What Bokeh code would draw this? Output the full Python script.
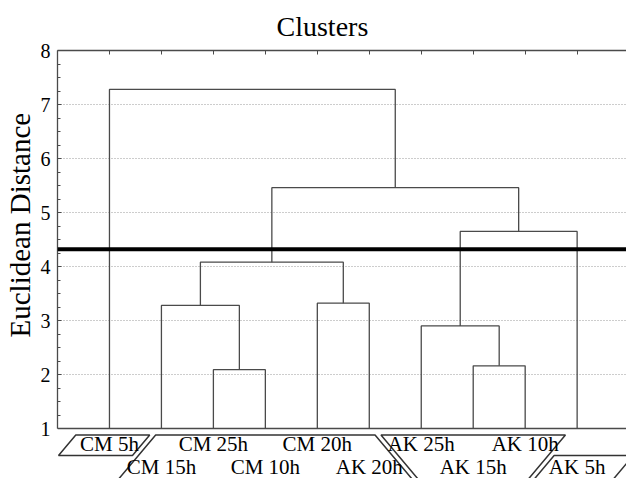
from bokeh.plotting import figure
from bokeh.models import Range1d, LinearAxis, FixedTicker, Span, Title
from bokeh.embed import file_html
from bokeh.resources import INLINE
from bokeh.core.properties import value

# ---------------- data ----------------
leaf_labels = ["CM 5h", "CM 15h", "CM 25h", "CM 10h", "CM 20h",
               "AK 20h", "AK 25h", "AK 15h", "AK 10h", "AK 5h"]
# merges: node ids 0..9 are leaves, merge k creates node 10 + k
merge_left = [2, 1, 4, 11, 7, 6, 15, 13, 0]
merge_right = [3, 10, 5, 12, 8, 14, 9, 16, 17]
merge_height = [2.09, 3.28, 3.32, 4.08, 2.16, 2.90, 4.65, 5.46, 7.28]
cut_height = 4.32
y_ticks = [1, 2, 3, 4, 5, 6, 7, 8]

# ---------------- layout constants ----------------
FONT = "Liberation Serif"
FIG_W, FIG_H = 626, 478
LEFT, TOP = 51, 50
X_END = 10.95
PXU = (FIG_W - LEFT) / X_END          # pixels per x unit
PXY = 54.0                            # pixels per y unit
Y_LO = y_ticks[-1] - (FIG_H - TOP) / PXY
LINE_C = "#4a4a4a"

n = len(leaf_labels)
leaf_x = [i + 1 for i in range(n)]

# ---------------- dendrogram geometry ----------------
node_x = {i: float(leaf_x[i]) for i in range(n)}
node_y = {i: float(y_ticks[0]) for i in range(n)}
members = {i: [i] for i in range(n)}
children = {}
xs, ys = [], []
for k, (a, b, h) in enumerate(zip(merge_left, merge_right, merge_height)):
    node = n + k
    xs.append([node_x[a], node_x[a], node_x[b], node_x[b]])
    ys.append([node_y[a], h, h, node_y[b]])
    node_x[node] = (node_x[a] + node_x[b]) / 2
    node_y[node] = h
    members[node] = members[a] + members[b]
    children[node] = (a, b)

root = n + len(merge_height) - 1


def split(node):
    if node < n or node_y[node] < cut_height:
        return [sorted(members[node])]
    a, b = children[node]
    return split(a) + split(b)


clusters = sorted(split(root), key=lambda m: m[0])

# ---------------- figure ----------------
p = figure(width=FIG_W, height=FIG_H, x_range=Range1d(0, X_END),
           y_range=Range1d(Y_LO, y_ticks[-1]),
           x_axis_location=None, y_axis_location="left",
           toolbar_location=None, output_backend="svg",
           min_border_left=LEFT, min_border_right=0,
           min_border_top=TOP, min_border_bottom=0,
           title="Clusters")
p.outline_line_color = None

p.title.text_font = FONT
p.title.text_font_size = "28px"
p.title.text_font_style = "normal"
p.title.text_color = "black"
p.title.align = "left"
p.title.offset = 219
p.title.standoff = 17

ya = p.yaxis[0]
minor = [t + 0.25 * j for t in y_ticks[:-1] for j in range(1, 4)]
ya.ticker = FixedTicker(ticks=y_ticks, minor_ticks=minor)
ya.bounds = (y_ticks[0], y_ticks[-1])
ya.major_label_text_font = FONT
ya.major_label_text_font_size = "20px"
ya.major_label_text_color = "black"
ya.major_label_standoff = 7
ya.major_tick_in = 4
ya.major_tick_out = 0
ya.minor_tick_in = 3
ya.minor_tick_out = 0
ya.axis_line_color = LINE_C
ya.major_tick_line_color = LINE_C
ya.minor_tick_line_color = LINE_C
ya.axis_line_width = 1.3

ytitle = Title(text="Euclidean Distance", align="left", offset=141,
               standoff=3, text_font=FONT, text_font_size="29px",
               text_font_style="normal", text_color="black")
p.add_layout(ytitle, "left")

top_axis = LinearAxis(ticker=FixedTicker(ticks=leaf_x, minor_ticks=[]),
                      major_label_overrides={x: "" for x in leaf_x},
                      major_label_standoff=0,
                      major_label_text_font_size="1px",
                      major_tick_in=4, major_tick_out=0,
                      minor_tick_in=0, minor_tick_out=0,
                      axis_line_color=LINE_C, axis_line_width=1.3,
                      major_tick_line_color=LINE_C)
p.add_layout(top_axis, "above")

p.xgrid.visible = False
p.ygrid.ticker = FixedTicker(ticks=y_ticks[1:-1])
p.ygrid.grid_line_color = "#9a9a9a"
p.ygrid.grid_line_dash = "1 2"
p.ygrid.grid_line_width = 1

p.multi_line(xs, ys, line_color=LINE_C, line_width=1.3)

p.add_layout(Span(location=y_ticks[0], dimension="width",
                  line_color=LINE_C, line_width=1.5))
p.add_layout(Span(location=cut_height, dimension="width",
                  line_color="black", line_width=4))

# ---------------- label strip below the axis (offsets in px) ----------------
T, M, B = 6.5, 27.0, 90.0
SL = 0.85
GAP = 6.0
OUT_L, OUT_R = 0.98, 1.08
row = [i % 2 for i in range(n)]
text_mid = [15.8, 38.5]


def yy(px_below):
    return y_ticks[0] - px_below / PXY


def edge(y, xm, d):
    return xm + d * (M - y) * SL / PXU


box_xs, box_ys = [], []
for mem in clusters:
    lo, hi = mem[0], mem[-1]
    if lo == 0:
        lxm, ld = leaf_x[0] - OUT_L, 1
    else:
        lxm = leaf_x[lo - 1] + 0.5 + GAP / 2 / PXU
        ld = 1 if (row[lo - 1] == 0 and row[lo] == 1) else -1
    if hi == n - 1:
        rxm, rd = leaf_x[-1] + OUT_R, 1
    else:
        rxm = leaf_x[hi] + 0.5 - GAP / 2 / PXU
        rd = 1 if (row[hi] == 0 and row[hi + 1] == 1) else -1
    ytop = T if any(row[i] == 0 for i in mem) else M
    ybot = B if any(row[i] == 1 for i in mem) else M
    box_xs.append([edge(ytop, lxm, ld), edge(ytop, rxm, rd),
                   edge(ybot, rxm, rd), edge(ybot, lxm, ld)])
    box_ys.append([yy(ytop), yy(ytop), yy(ybot), yy(ybot)])

p.patches(box_xs, box_ys, fill_color=None, line_color="#333333",
          line_width=1.5)
p.text(x=leaf_x, y=[yy(text_mid[r]) for r in row], text=leaf_labels,
       text_font=value(FONT), text_font_size="21px",
       text_align="center", text_baseline="middle",
       text_color="black")

open("out.html", "w").write(file_html(p, INLINE))
